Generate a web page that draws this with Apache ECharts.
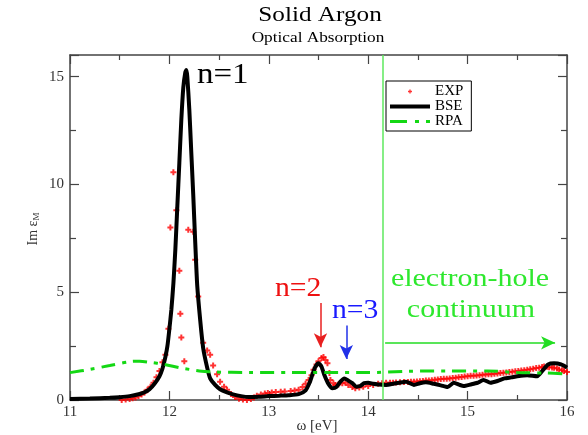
<!DOCTYPE html>
<html><head><meta charset="utf-8">
<script src="https://cdn.jsdelivr.net/npm/echarts@6/dist/echarts.min.js"></script>
<style>html,body{margin:0;padding:0;background:#fff}#c{width:588px;height:435px}</style>
</head><body><div id="c"></div>
<script>
// ---- data ----
const xTicks = [11, 12, 13, 14, 15, 16];
const yTicks = [0, 5, 10, 15];
const expX = [11.52,11.56,11.60,11.63,11.66,11.69,11.72,11.75,11.78,11.81,11.84,11.87,11.90,11.93,11.96,11.99,12.01,12.04,12.07,12.10,12.11,12.12,12.15,12.19,12.24,12.26,12.29,12.34,12.38,12.41,12.44,12.48,12.51,12.55,12.58,12.62,12.66,12.70,12.74,12.78,12.82,12.85,12.88,12.92,12.96,12.99,13.03,13.07,13.12,13.16,13.22,13.26,13.30,13.34,13.37,13.40,13.43,13.45,13.48,13.50,13.53,13.55,13.57,13.59,13.61,13.62,13.65,13.67,13.70,13.74,13.77,13.80,13.84,13.87,13.91,13.95,14.00,14.05,14.10,14.14,14.18,14.22,14.25,14.28,14.32,14.36,14.40,14.43,14.46,14.49,14.52,14.55,14.58,14.61,14.64,14.67,14.70,14.73,14.76,14.79,14.82,14.85,14.88,14.91,14.94,14.97,15.00,15.03,15.06,15.09,15.12,15.15,15.18,15.21,15.24,15.27,15.30,15.33,15.36,15.39,15.42,15.45,15.48,15.51,15.54,15.57,15.60,15.63,15.66,15.69,15.72,15.75,15.77,15.80,15.82,15.85,15.87,15.90,15.92,15.95,15.97,16.00];
const expY = [0.00,0.02,0.05,0.08,0.12,0.18,0.25,0.35,0.48,0.62,0.80,1.05,1.35,1.75,2.10,3.30,8.00,10.56,8.80,6.00,4.00,2.90,1.80,7.90,7.80,6.50,4.80,2.65,2.30,2.10,1.60,1.20,0.85,0.62,0.47,0.28,0.14,0.06,0.02,0.00,0.05,0.12,0.20,0.26,0.30,0.33,0.35,0.37,0.38,0.40,0.42,0.44,0.47,0.60,0.75,0.93,1.15,1.40,1.65,1.80,1.95,2.00,1.85,1.70,1.25,0.93,0.78,0.70,0.72,0.78,0.80,0.70,0.60,0.55,0.58,0.62,0.65,0.70,0.75,0.78,0.80,0.80,0.80,0.81,0.82,0.83,0.84,0.85,0.85,0.86,0.87,0.88,0.90,0.91,0.92,0.94,0.95,0.97,0.98,0.99,1.00,1.02,1.03,1.05,1.07,1.09,1.10,1.12,1.13,1.14,1.15,1.17,1.18,1.19,1.20,1.22,1.23,1.25,1.26,1.28,1.30,1.31,1.33,1.35,1.37,1.38,1.40,1.43,1.45,1.48,1.50,1.53,1.55,1.54,1.52,1.51,1.50,1.46,1.42,1.38,1.35,1.30];
const bseX = [11.0,11.2,11.4,11.5,11.6,11.7,11.75,11.8,11.85,11.9,11.93,11.96,11.98,12.0,12.02,12.04,12.06,12.08,12.10,12.12,12.14,12.16,12.17,12.18,12.20,12.22,12.24,12.26,12.28,12.31,12.34,12.38,12.41,12.46,12.51,12.58,12.64,12.72,12.8,12.9,13.0,13.1,13.2,13.3,13.37,13.41,13.44,13.47,13.50,13.53,13.56,13.6,13.64,13.68,13.72,13.76,13.80,13.84,13.88,13.92,13.96,14.0,14.05,14.1,14.18,14.25,14.31,14.38,14.46,14.52,14.58,14.66,14.73,14.8,14.86,14.92,14.96,15.03,15.1,15.16,15.23,15.3,15.37,15.44,15.5,15.6,15.7,15.76,15.81,15.87,15.94,16.0];
const bseY = [0.05,0.07,0.10,0.13,0.18,0.28,0.36,0.50,0.75,1.10,1.45,2.00,2.50,3.30,4.20,5.40,7.00,9.00,11.0,13.0,14.5,15.2,15.3,15.0,13.5,11.5,9.5,7.3,5.3,3.7,2.4,1.5,1.0,0.70,0.50,0.35,0.26,0.18,0.14,0.15,0.18,0.20,0.22,0.27,0.45,0.80,1.20,1.55,1.70,1.55,1.15,0.75,0.55,0.60,0.85,1.00,0.90,0.78,0.62,0.65,0.78,0.80,0.75,0.72,0.70,0.75,0.80,0.85,0.70,0.78,0.82,0.75,0.68,0.60,0.80,0.70,0.65,0.72,0.80,0.93,0.80,0.88,1.00,1.05,1.10,1.15,1.10,1.40,1.65,1.70,1.65,1.50];
const rpaX = [11.0,11.2,11.4,11.6,11.7,11.8,11.95,12.1,12.2,12.3,12.45,12.8,13.2,13.6,14.0,14.4,14.8,15.2,15.5,15.8,16.0];
const rpaY = [1.27,1.42,1.60,1.78,1.80,1.75,1.65,1.50,1.42,1.35,1.30,1.28,1.28,1.27,1.27,1.33,1.35,1.35,1.27,1.25,1.20];
const continuumEdge = 14.15;
const n2Arrow = [[13.52, 4.5], [13.52, 2.45]];
const n3Arrow = [[13.78, 3.45], [13.78, 1.9]];
const contArrow = [[14.17, 2.65], [15.88, 2.65]];

const zip = (a, b) => a.map((v, i) => [v, b[i]]);
const serif = '"Liberation Serif","DejaVu Serif",serif';
const axisCol = '#444';
const rpaColor = '#14d814';

const chart = echarts.init(document.getElementById('c'), null, {renderer: 'canvas'});
const xBase = {
  type: 'value', min: xTicks[0], max: xTicks[xTicks.length - 1], interval: 1,
  axisLine: {show: true, onZero: false, lineStyle: {color: axisCol, width: 1.5}},
  axisTick: {show: true, inside: true, length: 9, lineStyle: {color: axisCol, width: 1.2}},
  minorTick: {show: true, splitNumber: 2, length: 5, lineStyle: {color: axisCol, width: 1.2}},
  splitLine: {show: false}
};
const yBase = {
  type: 'value', min: yTicks[0], max: 16, interval: 5,
  axisLine: {show: true, onZero: false, lineStyle: {color: axisCol, width: 1.5}},
  axisTick: {show: true, inside: true, length: 9, lineStyle: {color: axisCol, width: 1.2}},
  minorTick: {show: true, splitNumber: 2, length: 6, lineStyle: {color: axisCol, width: 1.2}},
  splitLine: {show: false}
};
const arrowLine = (coords, color, size) => ({
  type: 'line', data: [], silent: true,
  markLine: {
    silent: true, animation: false, symbol: ['none', 'arrow'], symbolSize: size,
    label: {show: false},
    lineStyle: {color: color, width: 1.5, type: 'solid'},
    emphasis: {disabled: true},
    data: [[{coord: coords[0]}, {coord: coords[1]}]]
  }
});

chart.setOption({
  animation: false,
  grid: {left: 70, right: 21, top: 55, bottom: 35},
  xAxis: [
    Object.assign({}, xBase, {position: 'bottom',
      axisLabel: {show: true, margin: 5, color: '#333', fontFamily: serif, fontSize: 15,
        formatter: v => xTicks.includes(v) ? String(v) : ''}}),
    Object.assign({}, xBase, {position: 'top', axisLabel: {show: false}})
  ],
  yAxis: [
    Object.assign({}, yBase, {position: 'left',
      axisLabel: {show: true, margin: 6, color: '#333', fontFamily: serif, fontSize: 15,
        formatter: v => yTicks.includes(v) ? String(v) : ''}}),
    Object.assign({}, yBase, {position: 'right', axisLabel: {show: false}})
  ],
  legend: {
    orient: 'vertical', left: 386, top: 81,
    backgroundColor: '#fff', borderColor: '#000', borderWidth: 1,
    padding: [3, 8, 2, 4], itemGap: 0, itemWidth: 40, itemHeight: 4,
    textStyle: {fontFamily: serif, fontSize: 15, color: '#000'},
    data: [
      {name: 'EXP', icon: 'path://M1,0H2V1H3V2H2V3H1V2H0V1H1Z', itemStyle: {color: '#ff0000'}},
      {name: 'BSE', icon: 'rect', itemStyle: {color: '#000'}},
      {name: 'RPA', icon: 'path://M0,0h17v3h-17z M25,0h4v3h-4z M36,0h4v3h-4z', itemStyle: {color: rpaColor}}
    ]
  },
  series: [
    {
      name: 'EXP', type: 'scatter', data: zip(expX, expY),
      symbol: 'path://M2,0H4V2H6V4H4V6H2V4H0V2H2Z', symbolSize: 6,
      itemStyle: {color: '#ff0000'}, z: 2
    },
    {
      name: 'BSE', type: 'line', data: zip(bseX, bseY), symbol: 'none', smooth: 0.2,
      lineStyle: {color: '#000', width: 4}, itemStyle: {color: '#000'}, z: 3
    },
    {
      name: 'RPA', type: 'line', data: zip(rpaX, rpaY), symbol: 'none', smooth: 0.3,
      lineStyle: {color: rpaColor, width: 3, type: [14, 7, 4, 7]}, itemStyle: {color: rpaColor}, z: 4,
      markLine: {
        silent: true, animation: false, symbol: ['none', 'none'], label: {show: false},
        lineStyle: {color: '#5ee85e', width: 1.5, type: 'solid'},
        emphasis: {disabled: true},
        data: [{xAxis: continuumEdge}]
      }
    },
    arrowLine(n2Arrow, '#e82020', [10, 14]),
    arrowLine(n3Arrow, '#2030e8', [10, 14]),
    arrowLine(contArrow, '#22dd22', [10, 14])
  ],
  graphic: [
    {type: 'text', x: 320, y: 15, scaleX: 1.2, style: {text: 'Solid Argon', font: '21px ' + serif, fill: '#000', align: 'center', verticalAlign: 'middle'}},
    {type: 'text', x: 318, y: 38, scaleX: 1.15, style: {text: 'Optical Absorption', font: '15px ' + serif, fill: '#000', align: 'center', verticalAlign: 'middle'}},
    {type: 'text', x: 317, y: 426, style: {text: 'ω [eV]', font: '15px ' + serif, fill: '#333', align: 'center', verticalAlign: 'middle'}},
    {type: 'text', x: 33, y: 229, rotation: Math.PI / 2, style: {
      text: 'Im ε{s|M}', font: '14px ' + serif, fill: '#333', align: 'center', verticalAlign: 'middle',
      rich: {s: {fontSize: 9, fontFamily: serif, fill: '#333', padding: [8, 0, 0, 0]}}}},
    {type: 'text', x: 197, y: 75, scaleX: 1.1, style: {text: 'n=1', font: '30px ' + serif, fill: '#000', align: 'left', verticalAlign: 'middle'}},
    {type: 'text', x: 275, y: 289, scaleX: 1.1, style: {text: 'n=2', font: '27px ' + serif, fill: '#ee1111', align: 'left', verticalAlign: 'middle'}},
    {type: 'text', x: 332, y: 311, scaleX: 1.1, style: {text: 'n=3', font: '27px ' + serif, fill: '#1a1aff', align: 'left', verticalAlign: 'middle'}},
    {type: 'text', x: 470, y: 279, scaleX: 1.2, style: {text: 'electron-hole', font: '25px ' + serif, fill: '#2ee82e', align: 'center', verticalAlign: 'middle'}},
    {type: 'text', x: 471, y: 310, scaleX: 1.2, style: {text: 'continuum', font: '25px ' + serif, fill: '#2ee82e', align: 'center', verticalAlign: 'middle'}}
  ]
});
</script>
</body></html>
